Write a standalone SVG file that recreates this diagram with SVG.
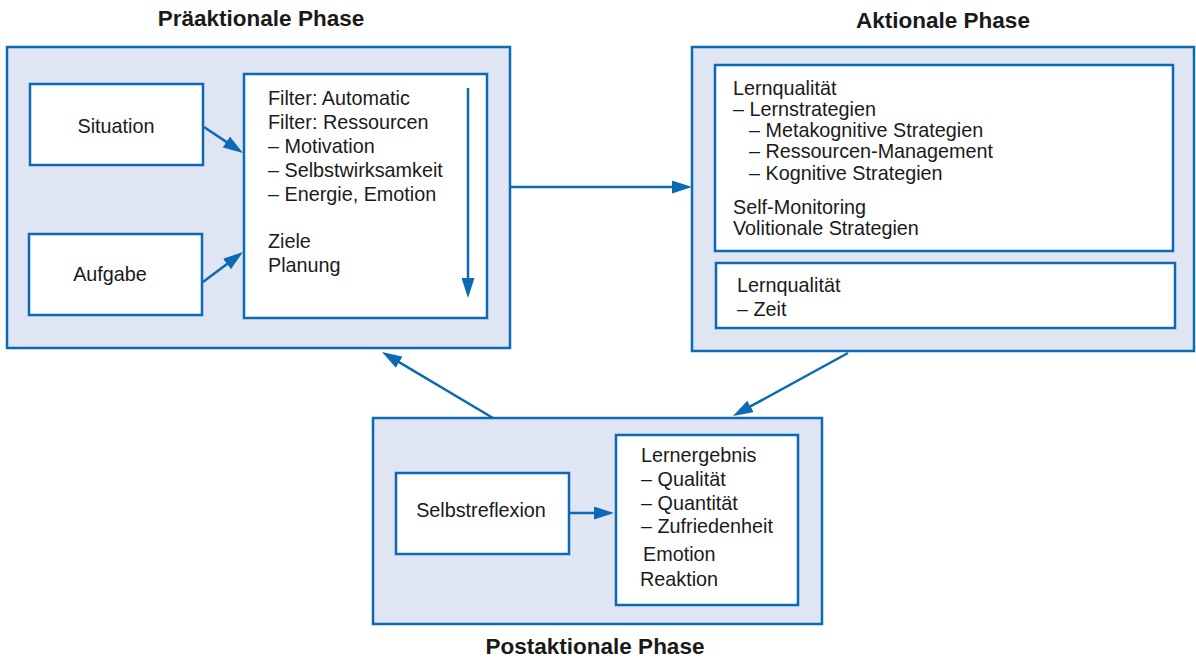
<svg xmlns="http://www.w3.org/2000/svg" width="1196" height="658" viewBox="0 0 1196 658">
  <style>
    .phase { fill: #dfe5f2; stroke: #0a6ab4; stroke-width: 2.5; }
    .box { fill: #ffffff; stroke: #0a6ab4; stroke-width: 2.5; }
    .txt { font-family: "Liberation Sans", Arial, sans-serif; font-size: 19.8px; fill: #1a1a1a; }
    .title { font-family: "Liberation Sans", Arial, sans-serif; font-size: 22.5px; font-weight: bold; fill: #1a1a1a; }
    .conn { fill: none; stroke: #0a6ab4; stroke-width: 2.5; marker-end: url(#arrow); }
  </style>
  <defs>
    <marker id="arrow" markerUnits="userSpaceOnUse" markerWidth="20" markerHeight="13" refX="8" refY="6.5" orient="auto">
      <path d="M0,0 L20,6.5 L0,13 z" fill="#0a6ab4"/>
    </marker>
  </defs>
  <rect width="1196" height="658" fill="#ffffff"/>

  <!-- Präaktionale Phase -->
  <g id="praeaktional">
    <rect class="phase" x="7" y="47" width="503" height="301"/>
    <text class="title" x="261" y="26" text-anchor="middle">Präaktionale Phase</text>
  </g>
  <g id="situation">
    <rect class="box" x="30" y="84" width="173" height="81"/>
    <text class="txt" x="116" y="133" text-anchor="middle">Situation</text>
  </g>
  <g id="aufgabe">
    <rect class="box" x="29" y="234" width="173" height="81"/>
    <text class="txt" x="110" y="281" text-anchor="middle">Aufgabe</text>
  </g>
  <g id="filter">
    <rect class="box" x="244" y="74" width="243" height="244"/>
    <text class="txt" x="268" y="105">Filter: Automatic</text>
    <text class="txt" x="268" y="129">Filter: Ressourcen</text>
    <text class="txt" x="268" y="153">– Motivation</text>
    <text class="txt" x="268" y="177">– Selbstwirksamkeit</text>
    <text class="txt" x="268" y="201">– Energie, Emotion</text>
    <text class="txt" x="268" y="248">Ziele</text>
    <text class="txt" x="268" y="272">Planung</text>
  </g>

  <!-- Aktionale Phase -->
  <g id="aktional">
    <rect class="phase" x="692" y="47" width="502" height="304"/>
    <text class="title" x="943" y="28" text-anchor="middle">Aktionale Phase</text>
  </g>
  <g id="lernstrategien">
    <rect class="box" x="715" y="65" width="458" height="186"/>
    <text class="txt" x="733" y="95">Lernqualität</text>
    <text class="txt" x="733" y="116">– Lernstrategien</text>
    <text class="txt" x="749" y="137">– Metakognitive Strategien</text>
    <text class="txt" x="749" y="158">– Ressourcen-Management</text>
    <text class="txt" x="749" y="180">– Kognitive Strategien</text>
    <text class="txt" x="733" y="214">Self-Monitoring</text>
    <text class="txt" x="733" y="235">Volitionale Strategien</text>
  </g>
  <g id="zeit">
    <rect class="box" x="716" y="263" width="459" height="65"/>
    <text class="txt" x="737" y="292">Lernqualität</text>
    <text class="txt" x="737" y="316">– Zeit</text>
  </g>

  <!-- Postaktionale Phase -->
  <g id="postaktional">
    <rect class="phase" x="373" y="418" width="449" height="206"/>
    <text class="title" x="595" y="654" text-anchor="middle">Postaktionale Phase</text>
  </g>
  <g id="selbstreflexion">
    <rect class="box" x="396" y="473" width="173" height="81"/>
    <text class="txt" x="481" y="517" text-anchor="middle">Selbstreflexion</text>
  </g>
  <g id="lernergebnis">
    <rect class="box" x="616" y="435" width="182" height="170"/>
    <text class="txt" x="641" y="462">Lernergebnis</text>
    <text class="txt" x="641" y="486">– Qualität</text>
    <text class="txt" x="641" y="510">– Quantität</text>
    <text class="txt" x="641" y="533">– Zufriedenheit</text>
    <text class="txt" x="643" y="561">Emotion</text>
    <text class="txt" x="640" y="586">Reaktion</text>
  </g>

  <!-- connectors -->
  <g id="connectors">
    <line class="conn" x1="204" y1="127" x2="233" y2="146.4"/>
    <line class="conn" x1="203" y1="282" x2="233.4" y2="259.2"/>
    <line class="conn" x1="468" y1="88" x2="468" y2="286"/>
    <line class="conn" x1="510" y1="187" x2="680" y2="187"/>
    <line class="conn" x1="848" y1="353" x2="743.5" y2="410.2"/>
    <line class="conn" x1="493" y1="418" x2="392.3" y2="358.1"/>
    <line class="conn" x1="569" y1="513" x2="602" y2="513"/>
  </g>
</svg>
